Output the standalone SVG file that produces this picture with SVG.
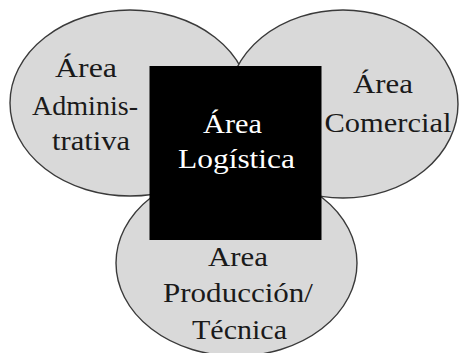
<svg xmlns="http://www.w3.org/2000/svg" width="459" height="353" viewBox="0 0 459 353">
<style>
.area{fill:#d9d9d9;stroke:#3a3a3a;stroke-width:1.4}
.lbl{font-size:27px;fill:#1a1a1a;text-anchor:middle}
.inv{fill:#ffffff}
</style>
<rect x="0" y="0" width="459" height="353" fill="#ffffff"/>
<g id="area-administrativa">
<ellipse class="area" cx="130" cy="103" rx="120" ry="93"/>
</g>
<g id="area-comercial">
<ellipse class="area" cx="343" cy="104" rx="115" ry="94"/>
</g>
<g id="area-produccion">
<ellipse class="area" cx="236.5" cy="263" rx="120.5" ry="93"/>
</g>
<g id="area-logistica">
<rect x="149.5" y="66" width="172" height="174" fill="#000000"/>
</g>
<g font-family="Liberation Serif, DejaVu Serif, serif">
<g id="labels-administrativa">
<text class="lbl" x="86" y="77" textLength="62" lengthAdjust="spacingAndGlyphs">Área</text>
<text class="lbl" x="85" y="115" textLength="106" lengthAdjust="spacingAndGlyphs">Adminis-</text>
<text class="lbl" x="91" y="150" textLength="78" lengthAdjust="spacingAndGlyphs">trativa</text>
</g>
<g id="labels-comercial">
<text class="lbl" x="383" y="93" textLength="60" lengthAdjust="spacingAndGlyphs">Área</text>
<text class="lbl" x="388" y="132" textLength="127" lengthAdjust="spacingAndGlyphs">Comercial</text>
</g>
<g id="labels-logistica">
<text class="lbl inv" x="232.5" y="133" textLength="59" lengthAdjust="spacingAndGlyphs">Área</text>
<text class="lbl inv" x="236.5" y="168" textLength="117" lengthAdjust="spacingAndGlyphs">Logística</text>
</g>
<g id="labels-produccion">
<text class="lbl" x="238" y="266" textLength="60" lengthAdjust="spacingAndGlyphs">Area</text>
<text class="lbl" x="238" y="302" textLength="150" lengthAdjust="spacingAndGlyphs">Producción/</text>
<text class="lbl" x="239.5" y="339" textLength="95" lengthAdjust="spacingAndGlyphs">Técnica</text>
</g>
</g>
</svg>
